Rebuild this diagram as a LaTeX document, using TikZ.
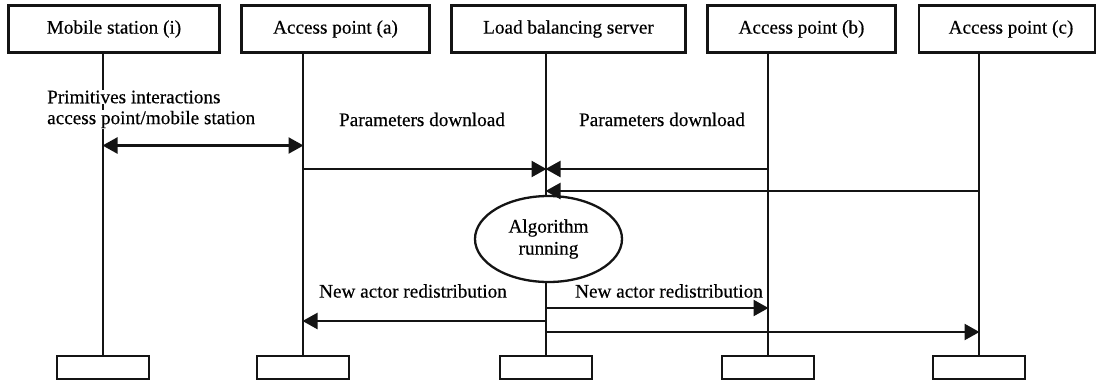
\documentclass[tikz,border=0pt]{standalone}
\usepackage{fontspec}
\setmainfont{Liberation Serif}[RawFeature={embolden=0.4}]
\usetikzlibrary{arrows.meta,shapes.geometric}
\tikzset{
  x=1pt,y=-1pt,
  line/.style={line width=2.3pt,draw=black!92},
  head/.style={line,draw,minimum height=47pt,inner sep=0pt,anchor=center},
  foot/.style={line,draw,minimum width=92pt,minimum height=23pt,inner sep=0pt},
  msg/.style={line,-{Triangle[length=15pt,width=16pt]},shorten >=-0.5pt},
  dmsg/.style={line,{Triangle[length=15pt,width=16pt]}-{Triangle[length=15pt,width=16pt]},shorten >=-0.5pt,shorten <=-0.5pt},
  lab/.style={font=\fontsize{19.2pt}{22pt}\selectfont,inner sep=0pt,text=black},
  wlab/.style={lab,fill=white,inner ysep=0.5pt,anchor=west}
}
\begin{document}
\begin{tikzpicture}
\useasboundingbox (0,0) rectangle (1096,381);
\fill[white] (0,0) rectangle (1096,381);
% heads
\node[head,minimum width=211pt] (t1) at (114,29) {};
\node[head,minimum width=188pt] (t2) at (335.5,29) {};
\node[head,minimum width=234pt] (t3) at (568.5,29) {};
\node[head,minimum width=188pt] (t4) at (801.5,29) {};
\node[head,minimum width=176pt] (t5) at (1007,29) {};
% feet
\node[foot] (b1) at (103,367.5) {};
\node[foot] (b2) at (303,367.5) {};
\node[foot] (b3) at (546,367.5) {};
\node[foot] (b4) at (768,367.5) {};
\node[foot] (b5) at (979,367.5) {};
% lifelines
\foreach \i in {1,...,5} \draw[line] (b\i.north) -- (b\i.north |- t\i.south);
% rows
\coordinate (r1) at (0,145.5);
\coordinate (r2) at (0,169);
\coordinate (r3) at (0,191);
\coordinate (r4) at (0,308);
\coordinate (r5) at (0,321);
\coordinate (r6) at (0,332);
% algorithm
\node[line,draw,ellipse,fill=white,minimum width=147pt,minimum height=86pt,inner sep=0pt,lab,align=center] (alg) at (548.5,239) {\raisebox{-1pt}{Algorithm}\\[1pt]running};
% messages
\draw[dmsg] (b1 |- r1) -- (b2 |- r1);
\draw[msg] (b2 |- r2) -- (b3 |- r2);
\draw[msg] (b4 |- r2) -- (b3 |- r2);
\draw[msg] (b5 |- r3) -- (b3 |- r3);
\draw[msg] (b3 |- r4) -- (b4 |- r4);
\draw[msg] (b3 |- r5) -- (b2 |- r5);
\draw[msg] (b3 |- r6) -- (b5 |- r6);
% labels
\node[lab] (l1) at (114,29) {Mobile station (i)};
\node[lab] (l2) at (335.5,29) {Access point (a)};
\node[lab] (l3) at (568.5,29) {Load balancing server};
\node[lab] (l4) at (801.5,29) {Access point (b)};
\node[lab] (l5) at (1011,29) {Access point (c)};
\node[wlab] (p1) at (47,97) {Primitives interactions};
\node[wlab] (p2) at (47,119.5) {access point/mobile station};
\node[lab] (d1) at (422,119.5) {Parameters download};
\node[lab] (d2) at (662,119.5) {Parameters download};
\node[lab] (n1) at (413,291) {New actor redistribution};
\node[lab] (n2) at (669,291) {New actor redistribution};
\end{tikzpicture}
\end{document}
